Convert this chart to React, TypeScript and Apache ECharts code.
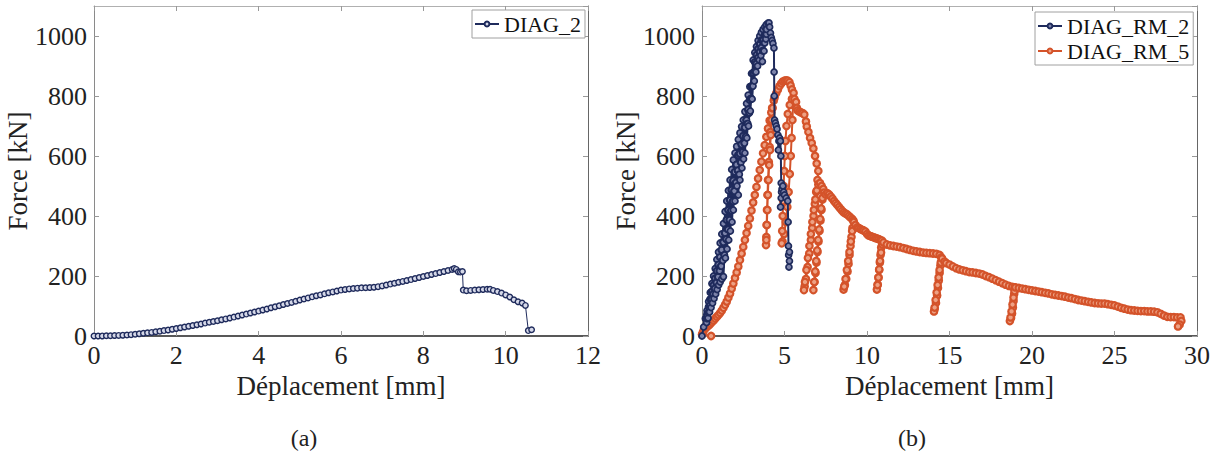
import React, { useEffect, useRef } from "react";
import * as echarts from "echarts";

// ---------- data (displacement mm, force kN) ----------
const diag2: [number, number][] = [
  [0, 0], [0.1, 0], [0.2, 0.3], [0.3, 0.7], [0.4, 1], [0.5, 1.5], [0.6, 2], [0.7, 2.8], [0.8, 3.5], [0.9, 4.5],
  [1.0, 6], [1.1, 7.5], [1.2, 9], [1.3, 10.5], [1.4, 12], [1.5, 14], [1.6, 16], [1.7, 18], [1.8, 20], [1.9, 22.5],
  [2.0, 25], [2.1, 27.5], [2.2, 30], [2.3, 32.5], [2.4, 35], [2.5, 37.5], [2.6, 40], [2.7, 43], [2.8, 46], [2.9, 48.5],
  [3.0, 51], [3.1, 54], [3.2, 57], [3.3, 60], [3.4, 63], [3.5, 66.5], [3.6, 70], [3.7, 73], [3.8, 76.5], [3.9, 80],
  [4.0, 83], [4.1, 86.5], [4.2, 90], [4.3, 94], [4.4, 97.5], [4.5, 101], [4.6, 105], [4.7, 108.5], [4.8, 112], [4.9, 116],
  [5.0, 120], [5.1, 123.5], [5.2, 127], [5.3, 130.5], [5.4, 134], [5.5, 137], [5.6, 140.5], [5.7, 144], [5.8, 147], [5.9, 150],
  [6.0, 153], [6.1, 155], [6.2, 157], [6.3, 158.5], [6.4, 159.5], [6.5, 160.5], [6.6, 161], [6.7, 161.5], [6.8, 162.5], [6.9, 164.5],
  [7.0, 167], [7.1, 170], [7.2, 173], [7.3, 176], [7.4, 179], [7.5, 182], [7.6, 185], [7.7, 188], [7.8, 191.5], [7.9, 195],
  [8.0, 198.5], [8.1, 201.5], [8.2, 205], [8.3, 208], [8.4, 211.5], [8.5, 215], [8.6, 218.5], [8.7, 222], [8.75, 225], [8.8, 222],
  [8.85, 214], [8.9, 213], [8.95, 215], [8.97, 153], [9.05, 151], [9.15, 152], [9.25, 153], [9.35, 154], [9.45, 155], [9.55, 156],
  [9.62, 156], [9.7, 152], [9.8, 148], [9.9, 143], [10.0, 137], [10.1, 130], [10.2, 121], [10.3, 114], [10.4, 110], [10.48, 102],
  [10.55, 18], [10.63, 21],
];

// cyclic loading band: envelope point, unloading, bottom, reloading
const diagRm2: [number, number][] = [
  [0, 0], [0.1, 30], [0.2, 58],
  [0.3, 85], [0.293, 72], [0.287, 58], [0.28, 45], [0.317, 58], [0.323, 72],
  [0.4, 115], [0.39, 97], [0.38, 78], [0.37, 60], [0.41, 78], [0.42, 97],
  [0.5, 145], [0.487, 123], [0.473, 102], [0.46, 80], [0.503, 102], [0.517, 123],
  [0.6, 175], [0.583, 148], [0.567, 122], [0.55, 95], [0.597, 122], [0.613, 148],
  [0.7, 200], [0.68, 170], [0.66, 140], [0.64, 110], [0.69, 140], [0.71, 170],
  [0.8, 225], [0.777, 192], [0.753, 158], [0.73, 125], [0.783, 158], [0.807, 192],
  [0.9, 255], [0.877, 217], [0.853, 178], [0.83, 140], [0.883, 178], [0.907, 217],
  [1.0, 280], [0.973, 238], [0.947, 197], [0.92, 155], [0.977, 197], [1.003, 238],
  [1.1, 310], [1.07, 263], [1.04, 217], [1.01, 170], [1.07, 217], [1.1, 263],
  [1.2, 340], [1.167, 287], [1.133, 233], [1.1, 180], [1.163, 233], [1.197, 287],
  [1.3, 375], [1.267, 313], [1.233, 252], [1.2, 190], [1.263, 252], [1.297, 313],
  [1.4, 415], [1.367, 343], [1.333, 270], [1.3, 198], [1.363, 270], [1.397, 343],
  [1.5, 450], [1.473, 387], [1.447, 323], [1.42, 260], [1.477, 323], [1.503, 387],
  [1.6, 485], [1.573, 420], [1.547, 355], [1.52, 290], [1.577, 355], [1.603, 420],
  [1.7, 520], [1.673, 453], [1.647, 387], [1.62, 320], [1.677, 387], [1.703, 453],
  [1.8, 555], [1.773, 487], [1.747, 418], [1.72, 350], [1.777, 418], [1.803, 487],
  [1.9, 587], [1.873, 518], [1.847, 449], [1.82, 380], [1.877, 449], [1.903, 518],
  [2.0, 610], [1.967, 547], [1.933, 483], [1.9, 420], [1.963, 483], [1.997, 547],
  [2.1, 632], [2.067, 571], [2.033, 511], [2.0, 450], [2.063, 511], [2.097, 571],
  [2.2, 655], [2.173, 603], [2.147, 552], [2.12, 500], [2.177, 552], [2.203, 603],
  [2.3, 677], [2.267, 608], [2.233, 539], [2.2, 470], [2.263, 539], [2.297, 608],
  [2.4, 698], [2.367, 639], [2.333, 579], [2.3, 520], [2.363, 579], [2.397, 639],
  [2.5, 720], [2.473, 667], [2.447, 613], [2.42, 560], [2.477, 613], [2.503, 667],
  [2.6, 748], [2.573, 695], [2.547, 643], [2.52, 590], [2.577, 643], [2.603, 695],
  [2.7, 775], [2.667, 720], [2.633, 665], [2.6, 610], [2.663, 665], [2.697, 720],
  [2.8, 803], [2.773, 755], [2.747, 708], [2.72, 660], [2.777, 708], [2.803, 755],
  [2.9, 831], [2.873, 787], [2.847, 744], [2.82, 700], [2.877, 744], [2.903, 787],
  [3.0, 875], [2.977, 833], [2.953, 792], [2.93, 750], [2.983, 792], [3.007, 833],
  [3.1, 920], [3.08, 877], [3.06, 833], [3.04, 790], [3.09, 833], [3.11, 877],
  [3.2, 945], [3.19, 913], [3.18, 882], [3.17, 850], [3.21, 882], [3.22, 913],
  [3.3, 965], [3.29, 937], [3.28, 908], [3.27, 880], [3.31, 908], [3.32, 937],
  [3.4, 985], [3.39, 957], [3.38, 928], [3.37, 900], [3.41, 928], [3.42, 957],
  [3.5, 1000], [3.49, 973], [3.48, 947], [3.47, 920], [3.51, 947], [3.52, 973],
  [3.6, 1012], [3.59, 986], [3.58, 961], [3.57, 935], [3.61, 961], [3.62, 986],
  [3.7, 1022], [3.687, 986], [3.673, 951], [3.66, 915], [3.703, 951], [3.717, 986],
  [3.8, 1030], [3.787, 1003], [3.773, 977], [3.76, 950], [3.803, 977], [3.817, 1003],
  [3.9, 1038], [3.89, 1022], [3.88, 1006], [3.87, 990], [3.91, 1006], [3.92, 1022],
  [4.0, 1043], [4.06, 1044],
  [4.1, 1030], [4.15, 1010], [4.2, 995], [4.25, 985], [4.3, 975], [4.36, 960], [4.37, 880], [4.38, 800],
  [4.4, 720], [4.45, 710], [4.5, 700], [4.55, 690], [4.6, 670], [4.63, 620], [4.66, 650], [4.7, 660],
  [4.75, 650], [4.78, 600], [4.8, 510], [4.82, 480], [4.76, 430], [4.8, 460], [4.85, 490], [4.9, 500],
  [4.95, 480], [5.0, 470], [5.1, 460], [5.2, 450], [5.22, 380], [5.24, 300], [5.25, 270], [5.27, 230],
  [5.3, 250], [5.3, 280],
];

const diagRm5: [number, number][] = [
  [0.55, 0], [0, 5], [0.05, 12], [0.1, 18], [0.2, 25], [0.3, 30], [0.4, 35], [0.5, 40], [0.6, 46], [0.7, 52],
  [0.8, 58], [0.9, 64], [1.0, 70], [1.1, 77], [1.2, 85], [1.3, 94], [1.4, 104], [1.5, 115], [1.6, 128], [1.7, 142],
  [1.8, 158], [1.9, 175], [2.0, 193], [2.1, 212], [2.2, 232], [2.3, 253], [2.4, 275], [2.5, 297], [2.6, 320], [2.7, 343],
  [2.8, 367], [2.9, 392], [3.0, 418], [3.1, 445], [3.2, 470], [3.3, 497], [3.4, 525], [3.5, 553], [3.6, 581], [3.7, 609],
  [3.8, 636], [3.9, 664], [4.0, 692], [4.1, 718], [4.2, 745], [4.25, 760],
  // cycle A
  [4.2, 720], [4.15, 680], [4.1, 630], [4.05, 580], [4.0, 520], [3.97, 470], [3.94, 420], [3.92, 370], [3.9, 330], [3.88, 303],
  [3.9, 320], [3.93, 370], [3.96, 420], [3.99, 470], [4.03, 520], [4.07, 570], [4.12, 620], [4.17, 670], [4.22, 720], [4.28, 760],
  [4.35, 785], [4.4, 795], [4.5, 809], [4.6, 822], [4.7, 833], [4.8, 842], [4.9, 848], [5.0, 851], [5.1, 852], [5.2, 851],
  [5.3, 846], [5.37, 835], [5.45, 822], [5.55, 810],
  // cycle B
  [5.52, 770], [5.48, 720], [5.43, 660], [5.38, 600], [5.32, 540], [5.25, 480], [5.17, 430], [5.08, 380], [4.98, 340], [4.88, 315],
  [4.83, 309], [4.86, 350], [4.89, 400], [4.92, 450], [4.95, 500], [4.98, 550], [5.02, 600], [5.06, 650], [5.12, 700], [5.2, 740],
  [5.32, 770], [5.45, 790], [5.6, 790], [5.7, 780], [5.75, 760], [5.8, 752], [5.9, 748], [6.0, 745], [6.1, 743], [6.2, 738],
  [6.3, 715], [6.35, 698], [6.45, 680], [6.55, 660], [6.65, 643], [6.75, 625], [6.85, 600], [6.95, 575], [7.05, 550],
  // cycle C
  [7.0, 520], [6.92, 480], [6.84, 440], [6.76, 400], [6.68, 360], [6.6, 320], [6.5, 275], [6.4, 230], [6.3, 190], [6.22, 165],
  [6.18, 153], [6.24, 180], [6.33, 220], [6.42, 260], [6.51, 300], [6.6, 340], [6.69, 380], [6.78, 420], [6.87, 455], [6.96, 485],
  [7.05, 505], [7.15, 510], [7.25, 500], [7.35, 490],
  // cycle D
  [7.3, 455], [7.24, 420], [7.18, 385], [7.12, 350], [7.06, 315], [7.0, 280], [6.94, 245], [6.88, 210], [6.82, 180], [6.75, 153],
  [6.8, 180], [6.86, 215], [6.92, 250], [6.98, 285], [7.04, 320], [7.1, 355], [7.16, 390], [7.22, 425], [7.3, 460], [7.4, 478],
  [7.5, 472], [7.6, 476], [7.7, 472], [7.8, 465], [7.9, 458], [8.0, 450], [8.1, 443], [8.2, 437], [8.3, 430], [8.4, 423],
  [8.5, 417], [8.6, 412], [8.7, 408], [8.8, 405], [8.9, 400], [9.0, 395], [9.1, 390], [9.17, 385],
  // cycle E
  [9.12, 360], [9.06, 330], [9.0, 300], [8.94, 270], [8.88, 240], [8.82, 215], [8.74, 190], [8.66, 170], [8.58, 155],
  [8.62, 165], [8.7, 190], [8.78, 220], [8.86, 250], [8.94, 280], [9.02, 315], [9.1, 350], [9.2, 380], [9.3, 370],
  [9.4, 362], [9.5, 360], [9.6, 357], [9.7, 354], [9.8, 352], [9.9, 348], [10.0, 340], [10.1, 335], [10.2, 333], [10.3, 331],
  [10.4, 329], [10.5, 327], [10.6, 325], [10.7, 323], [10.8, 320], [10.9, 318],
  // cycle F
  [10.86, 295], [10.82, 270], [10.78, 245], [10.74, 220], [10.7, 195], [10.65, 172], [10.6, 155],
  [10.64, 170], [10.69, 195], [10.74, 222], [10.79, 250], [10.85, 278], [10.92, 305], [11.0, 312],
  [11.2, 305], [11.4, 302], [11.6, 300], [11.8, 298], [12.0, 296], [12.2, 293], [12.4, 290], [12.6, 287], [12.8, 284], [13.0, 282],
  [13.2, 280], [13.4, 278], [13.6, 277], [13.8, 276], [14.0, 275], [14.2, 274], [14.4, 270], [14.5, 262],
  // cycle G
  [14.45, 235], [14.4, 210], [14.35, 185], [14.3, 160], [14.25, 135], [14.18, 110], [14.1, 90], [14.06, 82],
  [14.1, 95], [14.16, 120], [14.22, 145], [14.28, 170], [14.34, 195], [14.4, 220], [14.47, 245], [14.55, 258],
  [14.7, 248], [14.8, 243], [15.0, 238], [15.2, 232], [15.4, 226], [15.6, 222], [15.8, 219], [16.0, 216], [16.2, 213], [16.4, 212],
  [16.6, 210], [16.8, 208], [17.0, 205], [17.2, 200], [17.4, 196], [17.6, 191], [17.8, 186], [18.0, 181], [18.2, 176], [18.4, 171],
  [18.6, 167], [18.8, 164], [18.95, 162],
  // cycle H
  [18.92, 140], [18.88, 117], [18.84, 95], [18.79, 75], [18.73, 60], [18.66, 50],
  [18.7, 62], [18.76, 82], [18.82, 105], [18.88, 128], [18.94, 150], [19.0, 162],
  [19.2, 160], [19.4, 158], [19.6, 156], [19.8, 154], [20.0, 152], [20.2, 150], [20.4, 148], [20.6, 146], [20.8, 144], [21.0, 142],
  [21.2, 139], [21.4, 137], [21.6, 135], [21.8, 133], [22.0, 131], [22.2, 128], [22.4, 126], [22.6, 123], [22.8, 120], [23.0, 118],
  [23.2, 116], [23.4, 114], [23.6, 112], [23.8, 110], [24.0, 109], [24.2, 108], [24.4, 108], [24.6, 106], [24.8, 104], [25.0, 102],
  [25.2, 98], [25.4, 94], [25.6, 91], [25.8, 88], [26.0, 86], [26.2, 85], [26.4, 84], [26.6, 83], [26.8, 83], [27.0, 82],
  [27.2, 82], [27.4, 81], [27.6, 79], [27.8, 74], [28.0, 68], [28.2, 64], [28.4, 63], [28.6, 63], [28.8, 62], [29.0, 62],
  [29.05, 50], [28.95, 38], [28.85, 32],
];

const xTicksA = { min: 0, max: 12, interval: 2 };
const xTicksB = { min: 0, max: 30, interval: 5 };
const yTicks = { min: 0, max: 1100, interval: 200 };
const xTitle = "Déplacement [mm]";
const yTitle = "Force [kN]";
const captions = ["(a)", "(b)"];
const legendA = ["DIAG_2"];
const legendB = ["DIAG_RM_2", "DIAG_RM_5"];

const NAVY = "#1f2b5c";
const ORANGE = "#d4532a";
const FONT = "'Liberation Serif', 'Times New Roman', serif";
const TXT = "#222222";

export default function App() {
  const ref = useRef<HTMLDivElement>(null);

  useEffect(() => {
    if (!ref.current) return;
    const chart = echarts.init(ref.current, undefined, { renderer: "svg" });

    const grids = [
      { left: 94, top: 6, width: 494, height: 330 },
      { left: 702, top: 6, width: 495, height: 330 },
    ];

    const tick = { show: true, inside: true, length: 5, lineStyle: { color: "#999", width: 1 } };
    const fmt = (v: number) => String(v);

    const bottomX = (gi: number, t: any) => ({
      type: "value",
      gridIndex: gi,
      position: "bottom",
      ...t,
      name: xTitle,
      nameLocation: "middle",
      nameGap: 31,
      nameTextStyle: { fontFamily: FONT, fontSize: 27, color: TXT },
      axisLine: { show: true, lineStyle: { color: "#222", width: 1.5 } },
      axisTick: tick,
      axisLabel: { fontFamily: FONT, fontSize: 26, color: TXT, margin: 6, formatter: fmt },
      splitLine: { show: false },
    });
    const topX = (gi: number, t: any) => ({
      type: "value",
      gridIndex: gi,
      position: "top",
      ...t,
      axisLine: { show: true, onZero: false, lineStyle: { color: "#b0b0b0", width: 1 } },
      axisTick: tick,
      axisLabel: { show: false },
      splitLine: { show: false },
    });
    const leftY = (gi: number) => ({
      type: "value",
      gridIndex: gi,
      position: "left",
      ...yTicks,
      name: yTitle,
      nameLocation: "middle",
      nameGap: 54,
      nameTextStyle: { fontFamily: FONT, fontSize: 27, color: TXT },
      axisLine: { show: true, onZero: false, lineStyle: { color: "#8a8a8a", width: 1 } },
      axisTick: tick,
      axisLabel: { fontFamily: FONT, fontSize: 26, color: TXT, margin: 7, showMaxLabel: false, formatter: fmt },
      splitLine: { show: false },
    });
    const rightY = (gi: number) => ({
      type: "value",
      gridIndex: gi,
      position: "right",
      ...yTicks,
      axisLine: { show: true, onZero: false, lineStyle: { color: "#666", width: 1 } },
      axisTick: tick,
      axisLabel: { show: false },
      splitLine: { show: false },
    });

    const lineSeries = (
      name: string,
      data: [number, number][],
      color: string,
      xi: number,
      yi: number,
      z: number,
      size: number,
      bw: number,
      lw: number,
      fill: string
    ) => ({
      type: "line",
      name,
      data,
      xAxisIndex: xi,
      yAxisIndex: yi,
      z,
      symbol: "circle",
      symbolSize: size,
      showAllSymbol: true,
      color,
      lineStyle: { color, width: lw },
      itemStyle: { color: fill, borderColor: color, borderWidth: bw },
      emphasis: { disabled: true },
      clip: true,
    });

    const legendText = { fontFamily: FONT, fontSize: 22, color: "#111" };
    const legendBase = {
      borderColor: "#a0a0a0",
      borderWidth: 1,
      backgroundColor: "#ffffff",
      borderRadius: 0,
      itemWidth: 24,
      itemHeight: 6,
      textStyle: legendText,
      padding: [3, 4, 3, 2],
      itemGap: 3,
    };

    chart.setOption({
      animation: false,
      backgroundColor: "#ffffff",
      textStyle: { fontFamily: FONT },
      grid: grids,
      xAxis: [bottomX(0, xTicksA), topX(0, xTicksA), bottomX(1, xTicksB), topX(1, xTicksB)],
      yAxis: [leftY(0), rightY(0), leftY(1), rightY(1)],
      legend: [
        {
          ...legendBase,
          data: legendA.map((n) => ({ name: n, textStyle: legendText })),
          left: 472,
          top: 10,
        },
        {
          ...legendBase,
          data: legendB.map((n) => ({ name: n, textStyle: legendText })),
          orient: "vertical",
          left: 1035,
          top: 12,
        },
      ],
      series: [
        lineSeries("DIAG_2", diag2, NAVY, 0, 0, 3, 5.5, 1.4, 1, "#d5d8e8"),
        lineSeries("DIAG_RM_5", diagRm5, ORANGE, 2, 2, 2, 6.5, 2.2, 2, "#eda184"),
        lineSeries("DIAG_RM_2", diagRm2, NAVY, 2, 2, 3, 6, 1.7, 2, "#7d84aa"),
      ],
      graphic: captions.map((t, i) => ({
        type: "text",
        x: i === 0 ? 304 : 912,
        y: 438,
        style: {
          text: t,
          fontFamily: FONT,
          fontSize: 24,
          fill: TXT,
          textAlign: "center",
          textVerticalAlign: "middle",
        },
      })),
    });

    return () => chart.dispose();
  }, []);

  return (
    <div
      ref={ref}
      style={{ position: "absolute", left: 0, top: 0, width: 1214, height: 456, background: "#fff" }}
    />
  );
}
